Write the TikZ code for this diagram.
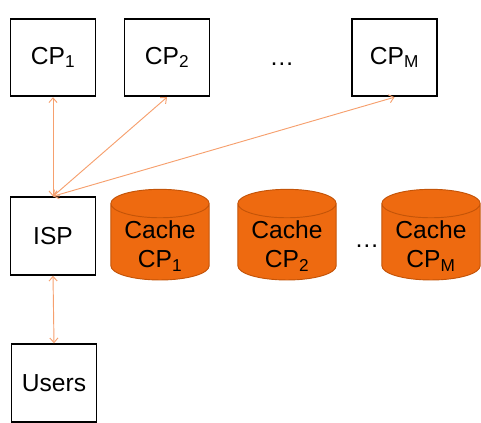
\documentclass[tikz,border=0pt]{standalone}
\usepackage{fontspec}
\setmainfont{Liberation Sans}
\usetikzlibrary{shapes.geometric,arrows.meta}
\definecolor{cachefill}{RGB}{238,106,16}
\definecolor{cacheline}{RGB}{196,84,8}
\definecolor{linkcol}{RGB}{246,160,110}
% cache label, drawn a little below the middle of the cylinder
\newcommand{\cachelabel}[1]{\raisebox{-0.34cm}[0.5cm][0.5cm]{\begin{tabular}{@{}c@{}}Cache\\#1\end{tabular}}}

\begin{document}
\begin{tikzpicture}[x=0.03cm,y=-0.03cm]
    \tikzstyle{every node}+=[inner sep=0pt, font=\fontsize{21}{25}\selectfont]
    \tikzstyle{party}=[draw=black, line width=1.5pt, minimum width=2.55cm, minimum height=2.33cm]
    \tikzstyle{cache}=[cylinder, shape border rotate=90, aspect=0.4, draw=cacheline, line width=0.8pt, fill=cachefill, minimum width=2.95cm, minimum height=2.72cm]
    \tikzstyle{link}=[draw=linkcol, line width=0.8pt, {Straight Barb[length=4pt,width=7pt]}-{Straight Barb[length=4pt,width=7pt]}]
    \useasboundingbox (0,0) rectangle (481,422);
    % content providers
    \node [party] (cp1) at (53,57.5) {CP\textsubscript{1}};
    \node [party] (cp2) at (167,57.5) {CP\textsubscript{2}};
    \node (cpdots) at (282,64) {\dots};
    \node [party] (cpm) at (394.5,57.5) {CP\textsubscript{M}};
    % isp and caches
    \node [party] (isp) at (53,236) {ISP};
    \node [cache] (cache1) at (160,242) {\cachelabel{CP\textsubscript{1}}};
    \node [cache] (cache2) at (287,242) {\cachelabel{CP\textsubscript{2}}};
    \node (cachedots) at (367,246) {\dots};
    \node [cache] (cachem) at (431,242) {\cachelabel{CP\textsubscript{M}}};
    % users
    \node [party] (users) at (54,383) {Users};
    % links
    \draw [link] (cp1.south) -- (isp.north);
    \draw [link] (isp.north) -- (cp2.south);
    \draw [link] (isp.north) -- (cpm.south);
    \draw [link] (isp.south) -- (users.north);
\end{tikzpicture}
\end{document}
